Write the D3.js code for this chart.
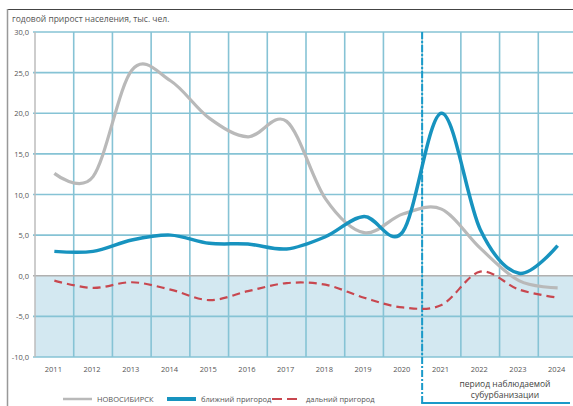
<!DOCTYPE html>
<html>
<head>
<meta charset="utf-8">
<script src="https://cdn.jsdelivr.net/npm/d3@7"></script>
<style>
  body { margin: 0; background: #fff; }
  svg { display: block; font-family: "Open Sans", "Noto Sans", sans-serif; }
</style>
</head>
<body>
<svg width="573" height="406"></svg>
<script>
var years = ["2011","2012","2013","2014","2015","2016","2017","2018","2019","2020","2021","2022","2023","2024"];
var novosibirsk = [12.6, 12.2, 25.3, 24.0, 19.4, 17.1, 19.0, 9.5, 5.3, 7.6, 8.2, 3.4, -0.6, -1.5];
var nearSuburb = [3.0, 3.0, 4.4, 5.0, 4.0, 3.9, 3.3, 4.8, 7.3, 5.4, 20.0, 5.7, 0.3, 3.7];
var farSuburb = [-0.6, -1.5, -0.8, -1.7, -3.0, -1.9, -0.9, -1.1, -2.7, -3.9, -3.6, 0.5, -1.7, -2.7];
var yTicks = [30, 25, 20, 15, 10, 5, 0, -5, -10];

var svg = d3.select("svg");

var x = d3.scaleBand().domain(years).range([35, 577]);
var y = d3.scaleLinear().domain([-10, 30]).range([357, 32]);
var fmt = function(v) { return v.toFixed(1).replace(".", ","); };

// frame
svg.append("line").attr("x1", 7).attr("x2", 573).attr("y1", 9.5).attr("y2", 9.5)
    .attr("stroke", "#444").attr("stroke-width", 1);
svg.append("line").attr("x1", 7.5).attr("x2", 7.5).attr("y1", 9).attr("y2", 406)
    .attr("stroke", "#999").attr("stroke-width", 1.5);

svg.append("text").attr("x", 12).attr("y", 22)
    .attr("font-size", 8.5).attr("fill", "#555")
    .text("годовой прирост населения, тыс. чел.");

// negative area
svg.append("rect")
    .attr("x", 35).attr("y", y(0))
    .attr("width", 577 - 35).attr("height", y(-10) - y(0))
    .attr("fill", "#d3e8f1");

// horizontal grid
svg.append("g").selectAll("line")
    .data(yTicks.filter(function(d) { return d !== 0; }))
    .enter().append("line")
    .attr("x1", 33).attr("x2", 577)
    .attr("y1", function(d) { return y(d); })
    .attr("y2", function(d) { return y(d); })
    .attr("stroke", "#86c3d5").attr("stroke-width", 1.6);

// vertical grid
var bounds = years.map(function(d) { return x(d); }).slice(1);
svg.append("g").selectAll("line")
    .data(bounds)
    .enter().append("line")
    .attr("x1", function(d) { return d; }).attr("x2", function(d) { return d; })
    .attr("y1", y(30)).attr("y2", y(-10))
    .attr("stroke", "#86c3d5").attr("stroke-width", 1.6);

svg.append("line")
    .attr("x1", 33).attr("x2", 577).attr("y1", y(0)).attr("y2", y(0))
    .attr("stroke", "#b0b0b0").attr("stroke-width", 1.5);
svg.append("line")
    .attr("x1", 35).attr("x2", 35).attr("y1", y(30)).attr("y2", y(-10))
    .attr("stroke", "#bdbdbd").attr("stroke-width", 1.5);

// y labels
svg.append("g").selectAll("text")
    .data(yTicks)
    .enter().append("text")
    .attr("x", 29).attr("y", function(d) { return y(d) + 3; })
    .attr("text-anchor", "end").attr("font-size", 7.5).attr("fill", "#555")
    .text(fmt);

// x labels
svg.append("g").selectAll("text")
    .data(years)
    .enter().append("text")
    .attr("x", function(d) { return x(d) + x.bandwidth() / 2 - 1; })
    .attr("y", 372)
    .attr("text-anchor", "middle").attr("font-size", 7.5).attr("fill", "#555")
    .text(function(d) { return d; });

// boundary of suburbanization period
var bx = x("2021");
svg.append("line")
    .attr("x1", bx).attr("x2", bx).attr("y1", y(30)).attr("y2", 403)
    .attr("stroke", "#1a9ac9").attr("stroke-width", 2)
    .attr("stroke-dasharray", "7,2,2,2");
svg.append("line")
    .attr("x1", bx - 1).attr("x2", 570).attr("y1", 403).attr("y2", 403)
    .attr("stroke", "#1a9ac9").attr("stroke-width", 2);
svg.append("text").attr("x", 505).attr("y", 387)
    .attr("text-anchor", "middle").attr("font-size", 8.5).attr("fill", "#444")
    .text("период наблюдаемой");
svg.append("text").attr("x", 505).attr("y", 398)
    .attr("text-anchor", "middle").attr("font-size", 8.5).attr("fill", "#444")
    .text("субурбанизации");

// lines
var line = d3.line()
    .x(function(d, i) { return x(years[i]) + x.bandwidth() / 2; })
    .y(function(d) { return y(d); })
    .curve(d3.curveCardinal.tension(0));

svg.append("path").datum(novosibirsk)
    .attr("d", line).attr("fill", "none")
    .attr("stroke", "#b9b9b9").attr("stroke-width", 3.2);
svg.append("path").datum(farSuburb)
    .attr("d", line).attr("fill", "none")
    .attr("stroke", "#c8474f").attr("stroke-width", 2.2)
    .attr("stroke-dasharray", "8,5");
svg.append("path").datum(nearSuburb)
    .attr("d", line).attr("fill", "none")
    .attr("stroke", "#1793bf").attr("stroke-width", 3.5);

// legend
var legend = [
  {name: "НОВОСИБИРСК", color: "#b9b9b9", w: 2.5, dash: null, x: 63},
  {name: "ближний пригород", color: "#1793bf", w: 4, dash: null, x: 167},
  {name: "дальний пригород", color: "#c8474f", w: 2.2, dash: "10,5", x: 272}
];
var lg = svg.append("g").selectAll("g").data(legend).enter().append("g");
lg.append("line")
    .attr("x1", function(d) { return d.x; }).attr("x2", function(d) { return d.x + 29; })
    .attr("y1", 399).attr("y2", 399)
    .attr("stroke", function(d) { return d.color; })
    .attr("stroke-width", function(d) { return d.w; })
    .attr("stroke-dasharray", function(d) { return d.dash; });
lg.append("text")
    .attr("x", function(d) { return d.x + 34; }).attr("y", 402)
    .attr("font-size", 7.5).attr("fill", "#555")
    .text(function(d) { return d.name; });
</script>
</body>
</html>
